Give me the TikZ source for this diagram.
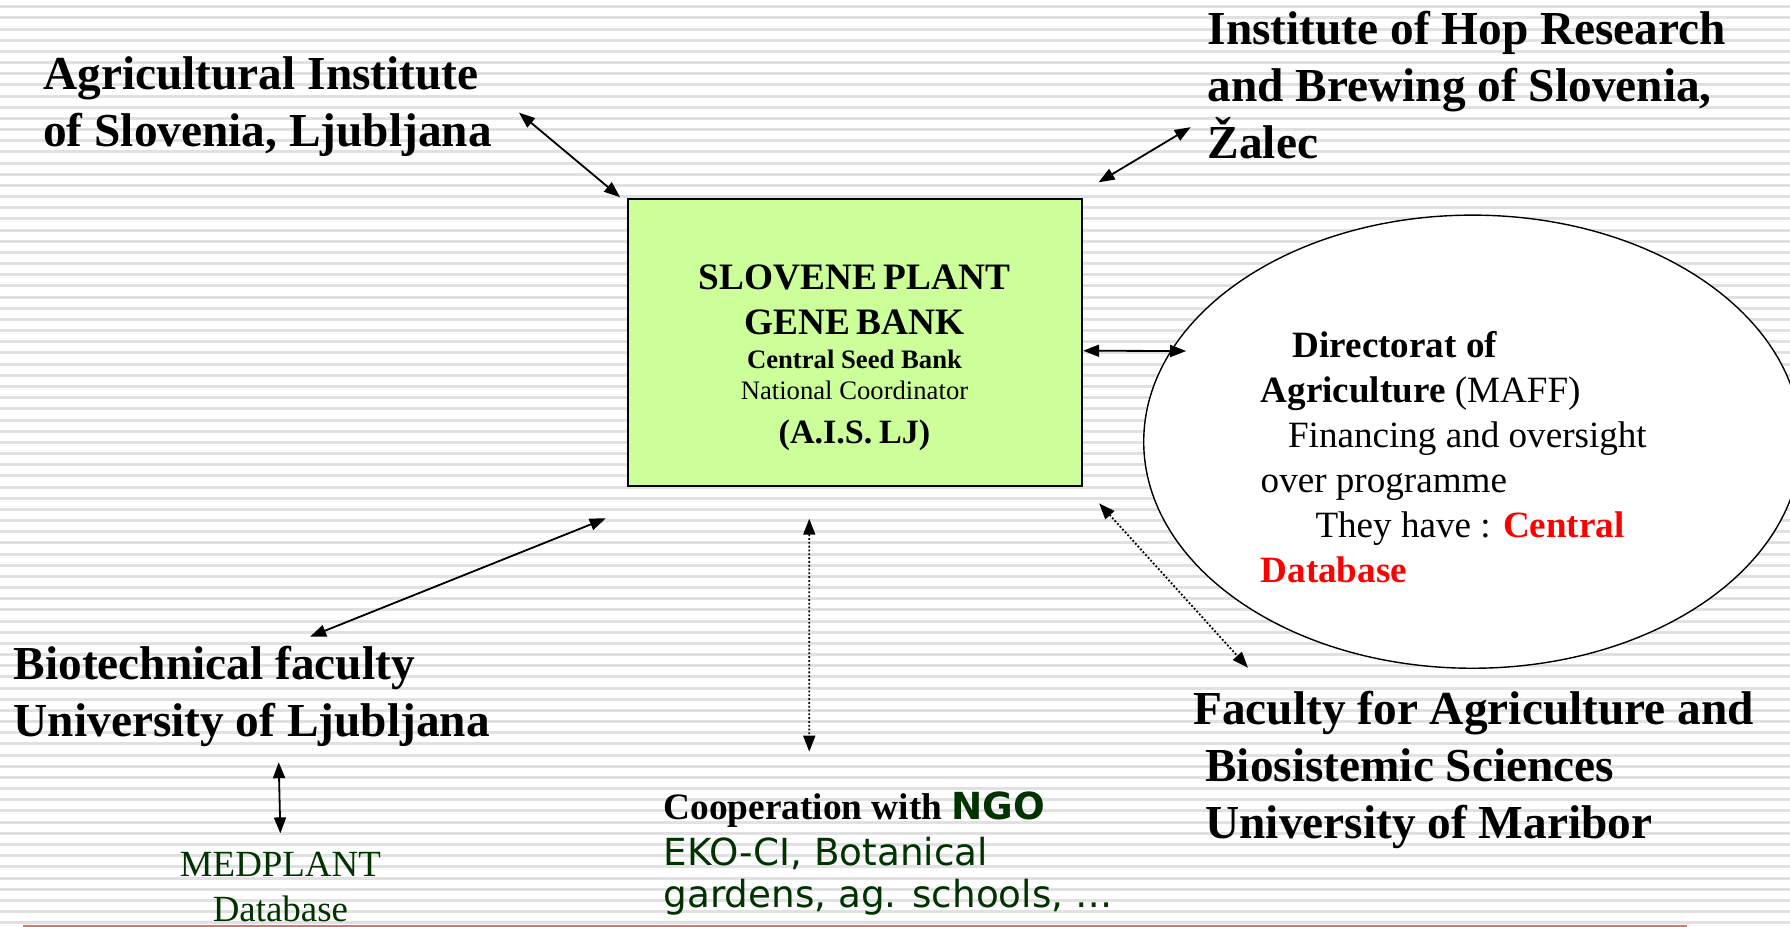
\documentclass[tikz,border=0pt]{standalone}
\usepackage{fontspec}
\setmainfont{Liberation Serif}
\newfontfamily\verdanafont{DejaVu Sans}
\usetikzlibrary{arrows.meta,shapes.geometric}
\definecolor{bankgreen}{RGB}{204,255,153}
\definecolor{ngogreen}{RGB}{0,51,0}
\definecolor{stripegray}{RGB}{225,225,225}
\definecolor{rulered}{RGB}{232,110,110}
\tikzset{
        instlabel/.style={inner sep=0pt, align=left, anchor=north west, font=\fontsize{23.6pt}{28.4pt}\selectfont\bfseries},
        twoway/.style={{Triangle[length=0.28cm,width=0.21cm]}-{Triangle[length=0.28cm,width=0.21cm]}, line width=0.9pt},
        dotway/.style={twoway, densely dotted},
}
\begin{document}
\begin{tikzpicture}[x=0.02cm, y=-0.02cm]
        \useasboundingbox (0,0) rectangle (1568,812);
        \fill[white] (0,0) rectangle (1568,812);
        \foreach \k in {0,...,82}
                \draw[stripegray, line width=1.5pt] (0,{5.87+9.785*\k}) -- (1568,{5.87+9.785*\k});
        \draw[rulered, line width=0.8pt] (20,811) -- (1478,811);

        \node[draw, fill=bankgreen, line width=1pt, inner sep=0pt, minimum width=7.96cm, minimum height=5.03cm] (bank) at (749,300.3) {};
        \node[text width=7.5cm, align=center, inner sep=0pt, anchor=north] (banktext) at (748.5,232) {\parindent=0pt
                {\fontsize{18.6pt}{22.4pt}\selectfont\bfseries SLOVENE PLANT\\GENE BANK\par}
                {\fontsize{13.3pt}{16.6pt}\selectfont\bfseries Central Seed Bank\par}
                {\fontsize{13.3pt}{15.8pt}\selectfont National Coordinator\par}
                {\fontsize{17pt}{21.6pt}\selectfont\bfseries (A.I.S. LJ)\par}};
        \node[draw, fill=white, ellipse, line width=0.7pt, inner sep=0pt, minimum width=11.52cm, minimum height=7.94cm] (maff) at (1289.8,386.9) {};
        \node[align=left, inner sep=0pt, anchor=north west, font=\fontsize{18.5pt}{22.4pt}\selectfont] (mafftext) at (1104,289.9) {\hspace*{0.56cm}\textbf{Directorat of}\\
                \textbf{Agriculture} (MAFF)\\
                \hspace*{0.48cm}Financing and oversight\\
                over programme\\
                \hspace*{0.96cm}They have : \textcolor{red}{\textbf{Central}}\\
                \textcolor{red}{\textbf{Database}}};

        \node[instlabel] (agri) at (37.6,49.2) {Agricultural Institute\\of Slovenia, Ljubljana};
        \node[instlabel] (hop) at (1057.5,9.3) {Institute of Hop Research\\and Brewing of Slovenia,\\Žalec};
        \node[instlabel] (biotech) at (11.7,565.5) {Biotechnical faculty\\University of Ljubljana};
        \node[instlabel] (maribor) at (1045,604.9) {Faculty for Agriculture and\\\hspace*{0.21cm}Biosistemic Sciences\\\hspace*{0.21cm}University of Maribor};
        \node[align=center, inner sep=0pt, anchor=north, text=ngogreen, font=\fontsize{18.4pt}{22.5pt}\selectfont] (medplant) at (245.6,746.4) {MEDPLANT\\Database};
        \node[align=left, inner sep=0pt, anchor=north west, font=\fontsize{18.6pt}{20.5pt}\selectfont] (ngo) at (580.9,693) {\textbf{Cooperation with} \textcolor{ngogreen}{\verdanafont\bfseries NGO}\\[2.8pt]
                \textcolor{ngogreen}{\verdanafont EKO-CI, Botanical}\\
                \textcolor{ngogreen}{\verdanafont gardens, ag. schools, …}};

        \draw[twoway] ([shift={(23.5,5.4)}]agri.east) -- ([shift={(-6,-1)}]bank.north west);
        \draw[twoway] ([shift={(-14.5,-28)}]hop.south west) -- ([shift={(13.5,-14)}]bank.north east);
        \draw[twoway] ([shift={(0,6.9)}]bank.east) -- ([shift={(37.8,-79.4)}]maff.west);
        \draw[twoway] ([shift={(51.1,-7.8)}]biotech.north) -- ([shift={(-18.6,27.2)}]bank.south west);
        \draw[twoway] ([shift={(23.6,13.4)}]biotech.south) -- ([shift={(0,-16.4)}]medplant.north);
        \draw[dotway] ([shift={(-40.1,27.5)}]bank.south) -- ([shift={(128,-34.6)}]ngo.north west);
        \draw[dotway] ([shift={(14,14)}]bank.south east) -- ([shift={(48.2,-20)}]maribor.north west);
\end{tikzpicture}
\end{document}
